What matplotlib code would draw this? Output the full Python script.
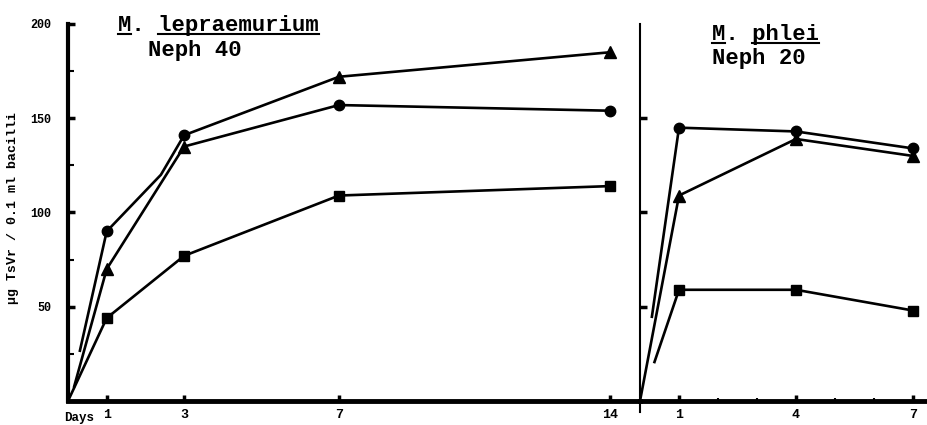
import matplotlib
matplotlib.use("Agg")
import matplotlib.pyplot as plt
from matplotlib.lines import Line2D

plt.rcParams['font.family'] = ['Liberation Mono', 'DejaVu Sans Mono']
plt.rcParams['font.weight'] = 'bold'

# M. lepraemurium, Neph 40 (days 1, 3, 7, 14)
lep_days = [1, 3, 7, 14]
lep_upper = [90, 141, 172, 185]
lep_upper_marks = ['o', 'o', '^', '^']
lep_middle = [70, 135, 157, 154]
lep_middle_marks = ['^', '^', 'o', 'o']
lep_square = [44, 77, 109, 114]
# loose starting strokes drawn by hand near the origin
lep_upper_start = [(0.3, 26)]
lep_upper_kink = (2.4, 120)
lep_middle_start = [(0.15, 7)]
lep_square_start = [(0, 0)]

# M. phlei, Neph 20 (days 1, 4, 7)
phl_days = [1, 4, 7]
phl_circle = [145, 143, 134]
phl_triangle = [109, 139, 130]
phl_square = [59, 59, 48]
phl_circle_start = [(0.3, 44)]
phl_triangle_start = [(0, 0)]
phl_square_start = [(0.36, 20)]

lep_ticks = [1, 3, 7, 14]
phl_ticks = [1, 4, 7]
y_ticks = [50, 100, 150, 200]

W, H = 928, 425
fig = plt.figure(figsize=(W / 100, H / 100), dpi=100)


def px(x, y):
    return x / W, 1 - y / H


ax1 = fig.add_axes([68 / W, (H - 401) / H, (640 - 68) / W, (401 - 24) / H])
ax2 = fig.add_axes([640 / W, (H - 401) / H, (928 - 640) / W, (401 - 24) / H])

lw = 1.9
ms = 7.5


def draw(ax, start, days, vals, marks, mid=None):
    xs = [p[0] for p in start] + [days[0]]
    ys = [p[1] for p in start] + [vals[0]]
    ax.plot(xs, ys, color='black', lw=lw, solid_capstyle='butt')
    xs = list(days)
    ys = list(vals)
    if mid is not None:
        xs = [days[0], mid[0]] + list(days[1:])
        ys = [vals[0], mid[1]] + list(vals[1:])
    ax.plot(xs, ys, color='black', lw=lw)
    for d, v, m in zip(days, vals, marks):
        ax.plot([d], [v], marker=m, color='black', ms=ms if m != '^' else ms + 1,
                linestyle='none')


draw(ax1, lep_upper_start, lep_days, lep_upper, lep_upper_marks, lep_upper_kink)
draw(ax1, lep_middle_start, lep_days, lep_middle, lep_middle_marks)
draw(ax1, lep_square_start, lep_days, lep_square, ['s'] * 4)

draw(ax2, phl_circle_start, phl_days, phl_circle, ['o'] * 3)
draw(ax2, phl_triangle_start, phl_days, phl_triangle, ['^'] * 3)
draw(ax2, phl_square_start, phl_days, phl_square, ['s'] * 3)

ax1.set_xlim(0, (640 - 68) / 38.7)
ax2.set_xlim(0, (928 - 640) / 39.0)
for ax in (ax1, ax2):
    ax.set_ylim(0, 200)
    ax.spines['top'].set_visible(False)
    ax.spines['right'].set_visible(False)
    ax.spines['bottom'].set_linewidth(3.5)
    ax.set_facecolor('none')

ax1.spines['left'].set_linewidth(3)
ax2.spines['left'].set_linewidth(1.5)
# the right panel's axis line runs a little below the day axis
ax2.plot([0, 0], [-6, 0], color='black', lw=1.5, clip_on=False)

ax1.set_xticks(lep_ticks)
ax1.set_xticklabels([str(t) for t in lep_ticks])
ax2.set_xticks(phl_ticks)
ax2.set_xticklabels([str(t) for t in phl_ticks])
ax2.set_xticks([2, 3, 5, 6], minor=True)

ax1.set_yticks(y_ticks)
ax1.set_yticklabels([str(t) for t in y_ticks])
ax1.set_yticks([25, 75, 125, 175], minor=True)
ax2.set_yticks(y_ticks[:-1])
ax2.set_yticklabels([])

for ax in (ax1, ax2):
    ax.tick_params(axis='x', which='major', direction='in', length=4, width=2.5,
                   pad=6, labelsize=9.5)
    ax.tick_params(axis='x', which='minor', direction='in', length=2, width=1.5)
    ax.tick_params(axis='y', which='major', direction='in', length=5, width=2.5,
                   pad=12, labelsize=8.5)
    ax.tick_params(axis='y', which='minor', direction='in', length=4, width=1.5)

fig.text(*px(94, 418), 'Days', ha='right', va='center', fontsize=9)

fig.text(*px(13, 208), u'\u03bcg TsVr / 0.1 ml bacilli', rotation=90,
         ha='center', va='center', fontsize=9.5)

t1 = fig.text(*px(118, 31), 'M. lepraemurium', ha='left', va='baseline', fontsize=16)
fig.text(*px(148, 56), 'Neph 40', ha='left', va='baseline', fontsize=16)
t2 = fig.text(*px(712, 40), 'M. phlei', ha='left', va='baseline', fontsize=16)
fig.text(*px(712, 64), 'Neph 20', ha='left', va='baseline', fontsize=16)

fig.canvas.draw()
for t, y_line, parts in ((t1, 34, [(0, 1), (3, 15)]), (t2, 43, [(0, 1), (3, 8)])):
    bb = t.get_window_extent()
    cw = bb.width / len(t.get_text())
    for a, b in parts:
        x0 = bb.x0 + a * cw
        x1 = bb.x0 + b * cw
        fig.add_artist(Line2D([x0 / W, x1 / W], [1 - y_line / H] * 2,
                              transform=fig.transFigure, color='black', lw=1.5))

fig.savefig('out.png', dpi=100)
